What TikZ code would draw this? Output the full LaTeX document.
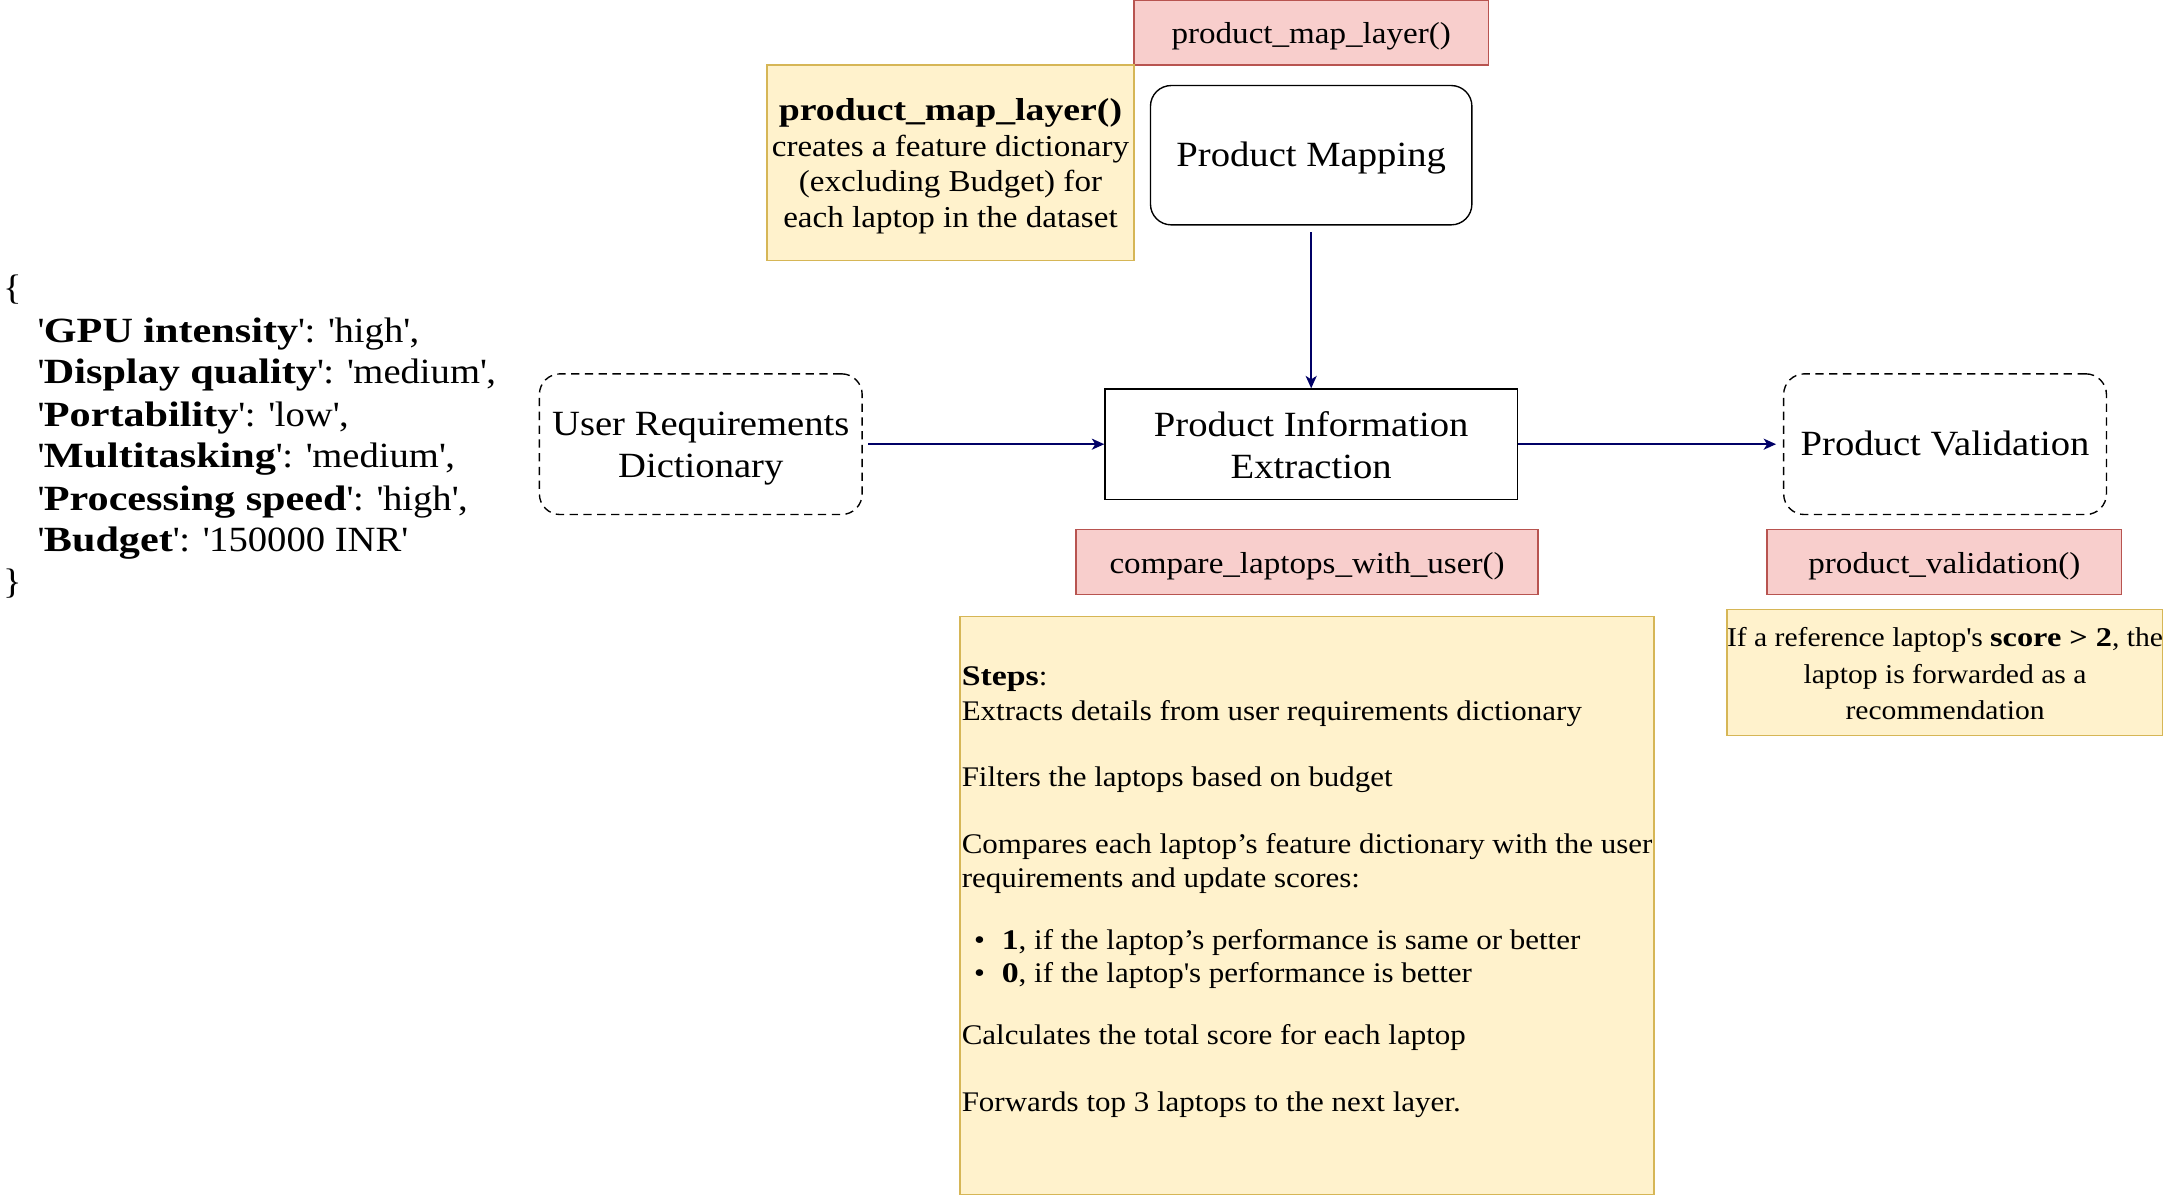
\documentclass[tikz,border=0pt]{standalone}
\usepackage{fontspec}
\setmainfont{Liberation Serif}[FakeStretch=1.09,BoldFeatures={FakeStretch=1.19}]
\usetikzlibrary{arrows.meta}
\definecolor{redfill}{HTML}{F8CECC}
\definecolor{redline}{HTML}{B85450}
\definecolor{yelfill}{HTML}{FFF2CC}
\definecolor{yelline}{HTML}{D6B656}
\definecolor{navy}{HTML}{000066}
\newcommand{\apo}{\textquotesingle}
\newcommand{\bigstrut}{\rule[-7pt]{0pt}{31pt}}
\begin{document}
\begin{tikzpicture}[x=1pt,y=-1pt,
  bigfont/.style={font=\fontsize{25.7}{30}\selectfont},
  redbox/.style={draw=redline,fill=redfill,line width=1pt,inner sep=0pt,font=\fontsize{22}{26}\selectfont,
    text height=18pt,text depth=2pt},
  yelbox/.style={draw=yelline,fill=yelfill,line width=1pt,inner sep=0pt},
  procbox/.style={draw=black,line width=1pt,inner sep=0pt,bigfont,align=center,
    execute at begin node=\bigstrut, execute at end node=\bigstrut},
  boxtext/.style={inner sep=0pt,bigfont,align=center,
    execute at begin node=\bigstrut, execute at end node=\bigstrut},
  roundbox/.style={procbox,rounded corners=15pt},
  dashbox/.style={procbox,rounded corners=15pt,dash pattern=on 6pt off 4pt},
  flow/.style={draw=navy,line width=1.4pt,-{Stealth[length=9pt,width=8pt,inset=2.5pt]}},
  ln/.style={anchor=base west,inner sep=0pt,font=\fontsize{20.6}{24.5}\selectfont},
  dictln/.style={anchor=base west,inner sep=0pt,font=\fontsize{25.7}{30}\selectfont}
]
\useasboundingbox (0,0) rectangle (1568,867);

% top labels and notes
\node[redbox,minimum width=257pt,minimum height=47pt] (maplbl) at (950.5,23.5) {product\_map\_layer()};
\node[yelbox,minimum width=266pt,minimum height=142pt] (mapnote) at (689,118) {};
\node[inner sep=0pt,align=center,font=\fontsize{22}{26}\selectfont] (mapnotetxt) at (689,120.5)
  {{\fontsize{23}{26}\selectfont\textbf{product\_map\_layer()}}\\creates a feature dictionary\\(excluding Budget) for\\each laptop in the dataset};

% process boxes
\node[roundbox,minimum width=233pt,minimum height=101pt] (pm) at (950.5,112.5) {Product Mapping};
\node[procbox,minimum width=299pt,minimum height=80pt] (pie) at (950.5,322) {};
\node[boxtext] (pietxt) at (950.5,326) {Product Information\\Extraction};
\node[dashbox,minimum width=234pt,minimum height=102pt] (urd) at (508,322) {};
\node[boxtext] (urdtxt) at (508,326) {User Requirements\\Dictionary};
\node[dashbox,minimum width=234pt,minimum height=102pt] (pv) at (1410,322) {Product Validation};

% arrows
\draw[flow,shorten <=5pt] (pm.south) -- (pie.north);
\draw[flow,shorten <=4pt] (urd.east) -- (pie.west);
\draw[flow,shorten >=5pt] (pie.east) -- (pv.west);

% function labels
\node[redbox,minimum width=335pt,minimum height=47pt] (cmplbl) at (947.5,407.5) {compare\_laptops\_with\_user()};
\node[redbox,minimum width=257pt,minimum height=47pt] (pvlbl) at (1409.5,407.5) {product\_validation()};

% right note
\node[yelbox,minimum width=316pt,minimum height=91pt] (pvnote) at (1410,487.5) {};
\node[inner sep=0pt,align=center,font=\fontsize{19.7}{26.5}\selectfont] (pvnotetxt) at (1410,488.5)
  {If a reference laptop\apo s \textbf{score > 2}, the\\laptop is forwarded as a\\recommendation};

% steps note
\node[yelbox,minimum width=503pt,minimum height=419pt] (steps) at (947.5,656.5) {};
\node[ln] (s1) at (697,497) {\textbf{Steps}:};
\node[ln] (s2) at (697,522) {Extracts details from user requirements dictionary};
\node[ln] (s3) at (697,570) {Filters the laptops based on budget};
\node[ln] (s4) at (697,619) {Compares each laptop’s feature dictionary with the user};
\node[ln] (s5) at (697,643) {requirements and update scores:};
\node[ln] (b1) at (706,688) {\textbullet};
\node[ln] (s6) at (726,688) {\textbf{1}, if the laptop’s performance is same or better};
\node[ln] (b2) at (706,712) {\textbullet};
\node[ln] (s7) at (726,712) {\textbf{0}, if the laptop\apo s performance is better};
\node[ln] (s8) at (697,757) {Calculates the total score for each laptop};
\node[ln] (s9) at (697,806) {Forwards top 3 laptops to the next layer.};

% dictionary
\node[dictln] (d0) at (2,217) {\{};
\node[dictln] (d1) at (27,248) {\apo\textbf{GPU intensity}\apo: \apo high\apo,};
\node[dictln] (d2) at (27,278) {\apo\textbf{Display quality}\apo: \apo medium\apo,};
\node[dictln] (d3) at (27,309) {\apo\textbf{Portability}\apo: \apo low\apo,};
\node[dictln] (d4) at (27,339) {\apo\textbf{Multitasking}\apo: \apo medium\apo,};
\node[dictln] (d5) at (27,370) {\apo\textbf{Processing speed}\apo: \apo high\apo,};
\node[dictln] (d6) at (27,400) {\apo\textbf{Budget}\apo: \apo 150000 INR\apo};
\node[dictln] (d7) at (2,430) {\}};
\end{tikzpicture}
\end{document}
